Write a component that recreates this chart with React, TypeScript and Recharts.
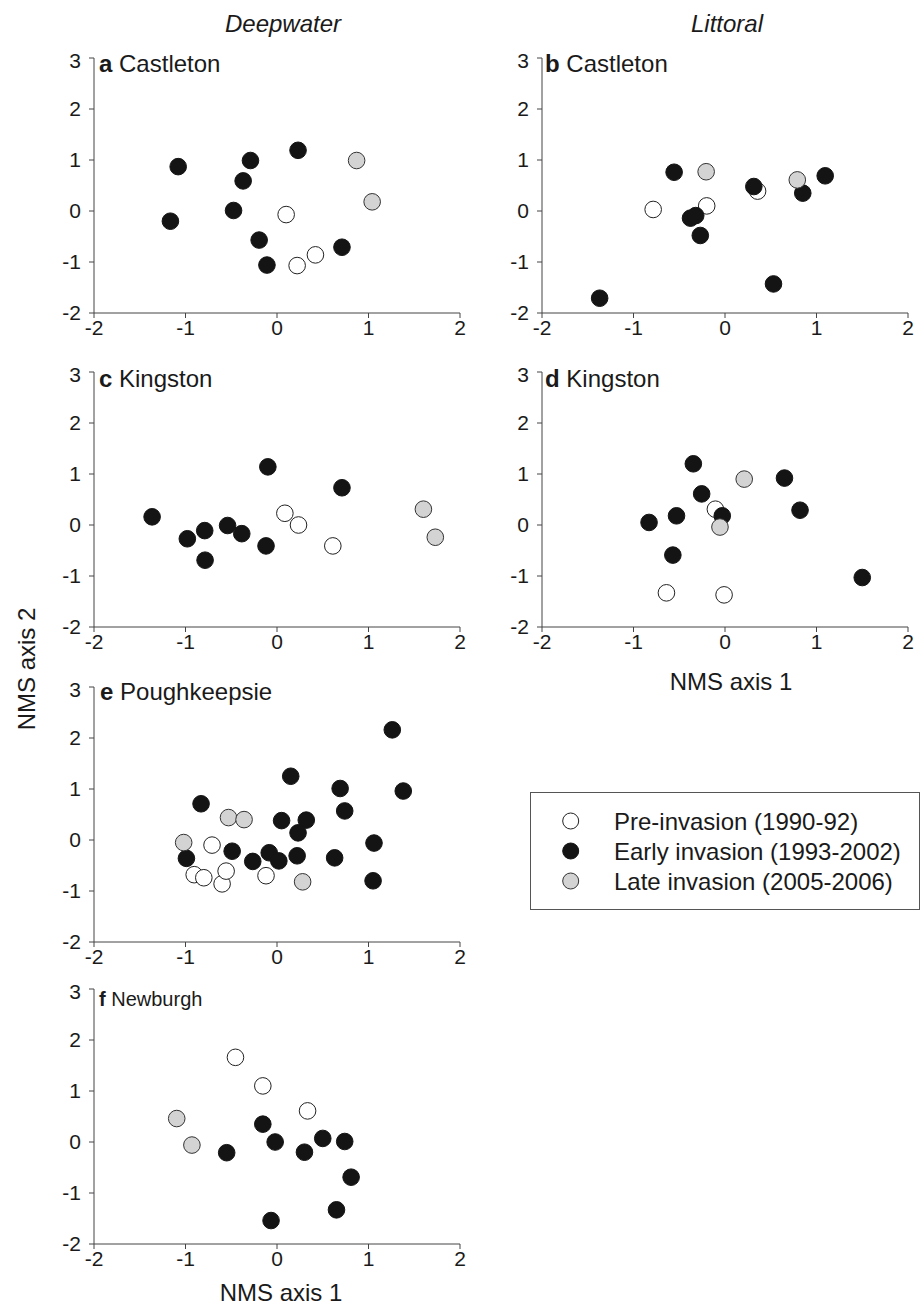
import React from 'react';
import { ScatterChart, Scatter, XAxis, YAxis } from 'recharts';

document.body.style.margin = '0';

type Pt = { x: number; y: number };

const periods = ['Pre-invasion (1990-92)', 'Early invasion (1993-2002)', 'Late invasion (2005-2006)'];
const periodFill = ['#ffffff', '#141414', '#d3d3d3'];
const periodStroke = ['#222222', '#141414', '#333333'];
const xTicks = [-2, -1, 0, 1, 2];
const yTicks = [-2, -1, 0, 1, 2, 3];

// a Castleton, deepwater
const aPre: Pt[] = [{ x: 0.1, y: -0.07 }, { x: 0.22, y: -1.07 }, { x: 0.42, y: -0.86 }];
const aEarly: Pt[] = [
  { x: -1.08, y: 0.87 }, { x: -1.165, y: -0.2 }, { x: -0.29, y: 0.99 }, { x: -0.37, y: 0.59 },
  { x: 0.23, y: 1.19 }, { x: -0.475, y: 0.01 }, { x: -0.195, y: -0.57 }, { x: -0.11, y: -1.06 },
  { x: 0.71, y: -0.71 },
];
const aLate: Pt[] = [{ x: 0.87, y: 0.99 }, { x: 1.04, y: 0.18 }];

// b Castleton, littoral
const bPre: Pt[] = [{ x: -0.785, y: 0.03 }, { x: -0.2, y: 0.1 }, { x: 0.356, y: 0.39 }];
const bEarly: Pt[] = [
  { x: -1.37, y: -1.71 }, { x: -0.556, y: 0.76 }, { x: -0.377, y: -0.14 }, { x: -0.32, y: -0.09 },
  { x: -0.27, y: -0.48 }, { x: 0.315, y: 0.48 }, { x: 0.53, y: -1.43 }, { x: 0.85, y: 0.35 },
  { x: 1.095, y: 0.69 },
];
const bLate: Pt[] = [{ x: -0.206, y: 0.77 }, { x: 0.79, y: 0.61 }];

// c Kingston, deepwater
const cPre: Pt[] = [{ x: 0.086, y: 0.23 }, { x: 0.235, y: 0.0 }, { x: 0.61, y: -0.41 }];
const cEarly: Pt[] = [
  { x: -1.365, y: 0.16 }, { x: -0.98, y: -0.27 }, { x: -0.79, y: -0.11 }, { x: -0.786, y: -0.69 },
  { x: -0.54, y: -0.01 }, { x: -0.385, y: -0.17 }, { x: -0.12, y: -0.41 }, { x: -0.1, y: 1.14 },
  { x: 0.71, y: 0.73 },
];
const cLate: Pt[] = [{ x: 1.6, y: 0.31 }, { x: 1.73, y: -0.24 }];

// d Kingston, littoral
const dPre: Pt[] = [{ x: -0.105, y: 0.31 }, { x: -0.64, y: -1.33 }, { x: -0.01, y: -1.37 }];
const dEarly: Pt[] = [
  { x: -0.346, y: 1.2 }, { x: -0.255, y: 0.61 }, { x: -0.83, y: 0.05 }, { x: -0.53, y: 0.18 },
  { x: -0.57, y: -0.59 }, { x: -0.03, y: 0.18 }, { x: 0.65, y: 0.92 }, { x: 0.82, y: 0.29 },
  { x: 1.5, y: -1.03 },
];
const dLate: Pt[] = [{ x: 0.21, y: 0.9 }, { x: -0.055, y: -0.04 }];

// e Poughkeepsie, deepwater
const ePre: Pt[] = [
  { x: -0.71, y: -0.1 }, { x: -0.905, y: -0.68 }, { x: -0.8, y: -0.74 },
  { x: -0.6, y: -0.86 }, { x: -0.556, y: -0.61 }, { x: -0.12, y: -0.7 },
];
const eEarly: Pt[] = [
  { x: 1.26, y: 2.16 }, { x: 0.15, y: 1.25 }, { x: 0.69, y: 1.01 }, { x: 1.38, y: 0.96 },
  { x: -0.83, y: 0.71 }, { x: 0.74, y: 0.57 }, { x: 0.05, y: 0.38 }, { x: 0.32, y: 0.39 },
  { x: 0.23, y: 0.14 }, { x: 1.06, y: -0.06 }, { x: -0.99, y: -0.36 }, { x: -0.49, y: -0.22 },
  { x: -0.265, y: -0.42 }, { x: -0.085, y: -0.25 }, { x: 0.02, y: -0.41 }, { x: 0.22, y: -0.31 },
  { x: 0.63, y: -0.35 }, { x: 1.05, y: -0.8 },
];
const eLate: Pt[] = [{ x: -1.02, y: -0.05 }, { x: -0.53, y: 0.44 }, { x: -0.36, y: 0.4 }, { x: 0.28, y: -0.82 }];

// f Newburgh, deepwater
const fPre: Pt[] = [{ x: -0.454, y: 1.66 }, { x: -0.155, y: 1.1 }, { x: 0.334, y: 0.61 }];
const fEarly: Pt[] = [
  { x: -0.155, y: 0.35 }, { x: -0.02, y: 0.0 }, { x: -0.55, y: -0.21 }, { x: 0.3, y: -0.2 },
  { x: 0.5, y: 0.07 }, { x: 0.74, y: 0.01 }, { x: 0.81, y: -0.69 }, { x: 0.65, y: -1.33 },
  { x: -0.065, y: -1.54 },
];
const fLate: Pt[] = [{ x: -1.096, y: 0.46 }, { x: -0.93, y: -0.06 }];

const FONT = '"Liberation Sans", Arial, Helvetica, sans-serif';
const AXIS = '#444444';
const TICK = { fill: '#1a1a1a', fontSize: 21, fontFamily: FONT };

const dot = (i: number) => (p: any) =>
  p.cx == null ? <g /> : (
    <circle cx={p.cx} cy={p.cy} r={8.3} fill={periodFill[i]} stroke={periodStroke[i]} strokeWidth={1} />
  );

function Panel({ left, top, series }: { left: number; top: number; series: Pt[][] }) {
  return (
    <div style={{ position: 'absolute', left: left - 60, top: top - 10 }}>
      <ScatterChart width={441} height={300} margin={{ top: 10, right: 15, bottom: 0, left: 0 }}>
        <XAxis
          type="number"
          dataKey="x"
          domain={[-2, 2]}
          ticks={xTicks}
          height={35}
          tickSize={5}
          tickMargin={2}
          axisLine={{ stroke: AXIS }}
          tickLine={{ stroke: AXIS }}
          tick={TICK}
          allowDataOverflow
        />
        <YAxis
          type="number"
          dataKey="y"
          domain={[-2, 3]}
          ticks={yTicks}
          width={60}
          tickSize={5}
          tickMargin={8}
          axisLine={{ stroke: AXIS }}
          tickLine={{ stroke: AXIS }}
          tick={TICK}
          allowDataOverflow
        />
        {series.map((d, i) => (
          <Scatter key={i} name={periods[i]} data={d} shape={dot(i)} isAnimationActive={false} />
        ))}
      </ScatterChart>
    </div>
  );
}

const panels = [
  { id: 'a', site: 'Castleton', left: 93.5, top: 57.5, series: [aPre, aEarly, aLate], tx: 99, ty: 72, fs: 24 },
  { id: 'b', site: 'Castleton', left: 541.7, top: 57.5, series: [bPre, bEarly, bLate], tx: 545, ty: 72, fs: 24 },
  { id: 'c', site: 'Kingston', left: 93.5, top: 372.3, series: [cPre, cEarly, cLate], tx: 99, ty: 387, fs: 24 },
  { id: 'd', site: 'Kingston', left: 541.7, top: 372.3, series: [dPre, dEarly, dLate], tx: 545, ty: 387, fs: 24 },
  { id: 'e', site: 'Poughkeepsie', left: 93.5, top: 687.3, series: [ePre, eEarly, eLate], tx: 100, ty: 700, fs: 24 },
  { id: 'f', site: 'Newburgh', left: 93.5, top: 989, series: [fPre, fEarly, fLate], tx: 99, ty: 1006, fs: 20 },
];

export default function App() {
  return (
    <div style={{ position: 'relative', width: 921, height: 1305, background: '#fff', overflow: 'hidden' }}>
      {panels.map((p) => (
        <Panel key={p.id} left={p.left} top={p.top} series={p.series} />
      ))}
      <svg
        width={921}
        height={1305}
        style={{ position: 'absolute', left: 0, top: 0, pointerEvents: 'none' }}
        fontFamily={FONT}
        fill="#1a1a1a"
      >
        <text x={283} y={32} fontSize={24} fontStyle="italic" textAnchor="middle">Deepwater</text>
        <text x={727} y={32} fontSize={24} fontStyle="italic" textAnchor="middle">Littoral</text>
        {panels.map((p) => (
          <text key={p.id} x={p.tx} y={p.ty} fontSize={p.fs}>
            <tspan fontWeight="bold">{p.id}</tspan> {p.site}
          </text>
        ))}
        <text x={731} y={690} fontSize={24} textAnchor="middle">NMS axis 1</text>
        <text x={281} y={1301} fontSize={24} textAnchor="middle">NMS axis 1</text>
        <text x={35} y={669} fontSize={24} textAnchor="middle" transform="rotate(-90 35 669)">NMS axis 2</text>
        <rect x={530.5} y={792.5} width={389} height={117} fill="none" stroke="#555" strokeWidth={1} />
        {periods.map((name, i) => (
          <g key={name}>
            <circle cx={570.7} cy={821 + i * 30} r={8} fill={periodFill[i]} stroke={periodStroke[i]} />
            <text x={614} y={830 + i * 30} fontSize={24}>{name}</text>
          </g>
        ))}
      </svg>
    </div>
  );
}
